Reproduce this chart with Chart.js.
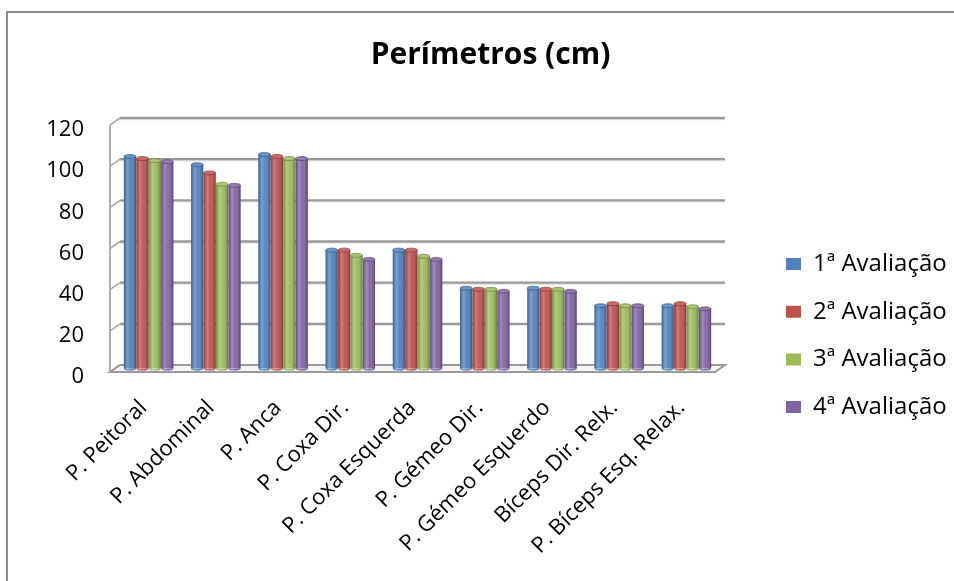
<!DOCTYPE html>
<html>
<head>
<meta charset="utf-8">
<script src="https://cdn.jsdelivr.net/npm/chart.js@4/dist/chart.umd.min.js"></script>
<style>
  html, body { margin: 0; padding: 0; background: #fff; }
  canvas { display: block; }
</style>
</head>
<body>
<canvas id="c" width="954" height="581"></canvas>
<script>
// Body measurements (cm) over four assessments
const categories = [
  'P. Peitoral', 'P. Abdominal', 'P. Anca', 'P. Coxa Dir.', 'P. Coxa Esquerda',
  'P. Gémeo Dir.', 'P. Gémeo Esquerdo', 'Bíceps Dir. Relx.', 'P. Bíceps Esq. Relax.'
];
const seriesNames = ['1ª Avaliação', '2ª Avaliação', '3ª Avaliação', '4ª Avaliação'];
const aval1 = [103, 99, 104, 57.5, 57.5, 39, 39, 30.5, 30.5];
const aval2 = [102, 95, 103, 57.5, 57.5, 38.5, 38.5, 31.5, 31.5];
const aval3 = [101, 89.5, 102, 55, 54.5, 38.5, 38.5, 30.5, 30];
const aval4 = [100.5, 89, 102, 53, 53, 37.5, 37.5, 30.5, 29];
const yTicks = [0, 20, 40, 60, 80, 100, 120];

const seriesData = [aval1, aval2, aval3, aval4];
const seriesColors = ['#4F81BD', '#C0504D', '#9BBB59', '#8064A2'];
const FONT = 'Open Sans';

// depth of the pseudo-3D box (front edge is offset left/down from the back wall)
const DEPTH_X = 10, DEPTH_Y = 7;
// columns stand half-way into the box
const BAR_SHIFT_X = -5, BAR_SHIFT_Y = 3.5;

function mix(hex, target, t) {
  const n = parseInt(hex.slice(1), 16);
  const r = (n >> 16) & 255, g = (n >> 8) & 255, b = n & 255;
  const f = c => Math.round(c + (target - c) * t);
  return `rgb(${f(r)},${f(g)},${f(b)})`;
}

// outer border, back wall grid, left wall and floor
const frame3d = {
  id: 'frame3d',
  beforeDatasetsDraw(chart) {
    const { ctx, chartArea: a, scales: { y } } = chart;
    ctx.save();
    ctx.lineCap = 'butt';
    const line = (pts, color, w) => {
      ctx.strokeStyle = color; ctx.lineWidth = w;
      ctx.beginPath();
      ctx.moveTo(pts[0][0], pts[0][1]);
      for (let i = 1; i < pts.length; i++) ctx.lineTo(pts[i][0], pts[i][1]);
      ctx.stroke();
    };
    const y0 = y.getPixelForValue(0);
    yTicks.forEach(v => {
      const py = y.getPixelForValue(v);
      if (v !== 0) {
        line([[a.left, py + 1.5], [a.right, py + 1.5]], 'rgba(0,0,0,0.10)', 1.5);
        line([[a.left, py], [a.right, py]], '#9a9a9a', 2.4);
      }
      line([[a.left - DEPTH_X, py + DEPTH_Y], [a.left, py]], '#a8a8a8', 1.6);
    });
    // left front edge
    line([[a.left - DEPTH_X, y.getPixelForValue(120) + DEPTH_Y], [a.left - DEPTH_X, y0 + DEPTH_Y]], '#a8a8a8', 1.8);
    // floor
    ctx.fillStyle = '#f4f4f4';
    ctx.beginPath();
    ctx.moveTo(a.left, y0); ctx.lineTo(a.right, y0);
    ctx.lineTo(a.right - DEPTH_X, y0 + DEPTH_Y); ctx.lineTo(a.left - DEPTH_X, y0 + DEPTH_Y);
    ctx.closePath(); ctx.fill();
    line([[a.left, y0], [a.right, y0], [a.right - DEPTH_X, y0 + DEPTH_Y], [a.left - DEPTH_X, y0 + DEPTH_Y], [a.left, y0]], '#9a9a9a', 2);
    ctx.restore();
  },
  afterDraw(chart) {
    const ctx = chart.ctx;
    ctx.save();
    ctx.strokeStyle = '#8a8a8a';
    ctx.lineWidth = 2;
    ctx.beginPath();
    ctx.moveTo(7, 585); ctx.lineTo(7, 12); ctx.lineTo(960, 12);
    ctx.stroke();
    ctx.restore();
  }
};

// shade the flat columns into cylinders
const cylinders = {
  id: 'cylinders',
  beforeDatasetsDraw(chart) {
    chart.ctx.save();
    chart.ctx.translate(BAR_SHIFT_X, BAR_SHIFT_Y);
  },
  afterDatasetsDraw(chart) {
    const ctx = chart.ctx;
    chart.data.datasets.forEach((ds, i) => {
      const meta = chart.getDatasetMeta(i);
      const base = seriesColors[i];
      meta.data.forEach(el => {
        const w = el.width, l = el.x - w / 2, top = el.y, bot = el.base;
        const g = ctx.createLinearGradient(l, 0, l + w, 0);
        g.addColorStop(0, 'rgba(0,0,0,0.22)');
        g.addColorStop(0.3, 'rgba(255,255,255,0.25)');
        g.addColorStop(0.55, 'rgba(255,255,255,0.05)');
        g.addColorStop(1, 'rgba(0,0,0,0.35)');
        // rounded foot
        ctx.beginPath();
        ctx.ellipse(el.x, bot, w / 2, 2, 0, 0, Math.PI);
        ctx.fillStyle = base; ctx.fill();
        ctx.fillStyle = g; ctx.fill();
        ctx.fillRect(l, top, w, bot - top);
        // top cap
        ctx.beginPath();
        ctx.ellipse(el.x, top, w / 2, 2, 0, 0, 2 * Math.PI);
        ctx.fillStyle = mix(base, 255, 0.15); ctx.fill();
        ctx.strokeStyle = mix(base, 0, 0.3); ctx.lineWidth = 0.7; ctx.stroke();
      });
    });
    ctx.restore();
  }
};

// fixed legend column to the right of the plot
const legendPlacement = {
  id: 'legendPlacement',
  beforeLayout(chart) {
    const lg = chart.legend;
    if (lg && !lg._fixedWidth) {
      const orig = lg.fit;
      lg.fit = function () { orig.call(this); this.width = 229; };
      lg._fixedWidth = true;
    }
  },
  afterLayout(chart) {
    const lg = chart.legend;
    const pad = lg.options.labels.padding;
    const dx = 786 - (lg.left + pad);
    const dy = 252 - (lg.top + pad);
    lg.left += dx; lg.right += dx;
    lg.top += dy; lg.bottom += dy;
  }
};

new Chart(document.getElementById('c'), {
  type: 'bar',
  data: {
    labels: categories,
    datasets: seriesNames.map((name, i) => ({
      label: name,
      data: seriesData[i],
      backgroundColor: seriesColors[i],
      borderWidth: 0,
      categoryPercentage: 0.74,
      barPercentage: 0.98
    }))
  },
  options: {
    responsive: false,
    animation: false,
    devicePixelRatio: 1,
    layout: { padding: { left: 27, right: 0, top: 0, bottom: 0 } },
    plugins: {
      title: {
        display: true,
        text: 'Perímetros (cm)',
        color: '#000',
        font: { family: FONT, size: 30, weight: 'bold' },
        padding: { top: 37, bottom: 45 }
      },
      legend: {
        position: 'right',
        align: 'start',
        labels: {
          color: '#000',
          font: { family: FONT, size: 24 },
          boxWidth: 15,
          boxHeight: 12,
          padding: 23.7
        }
      },
      tooltip: { enabled: false }
    },
    scales: {
      x: {
        grid: { display: false, drawTicks: false },
        border: { display: false },
        ticks: {
          color: '#000',
          font: { family: FONT, size: 22 },
          minRotation: 45,
          maxRotation: 45,
          autoSkip: false,
          padding: 30,
          labelOffset: -10
        },
        afterFit(s) { s.height = 216; }
      },
      y: {
        min: 0,
        max: 120,
        grid: { display: false, drawTicks: false },
        border: { display: false },
        ticks: {
          stepSize: 20,
          color: '#000',
          font: { family: FONT, size: 22 },
          padding: 36,
          labelOffset: 12
        },
        afterFit(s) { s.width = 93; }
      }
    }
  },
  plugins: [frame3d, cylinders, legendPlacement]
});
</script>
</body>
</html>
